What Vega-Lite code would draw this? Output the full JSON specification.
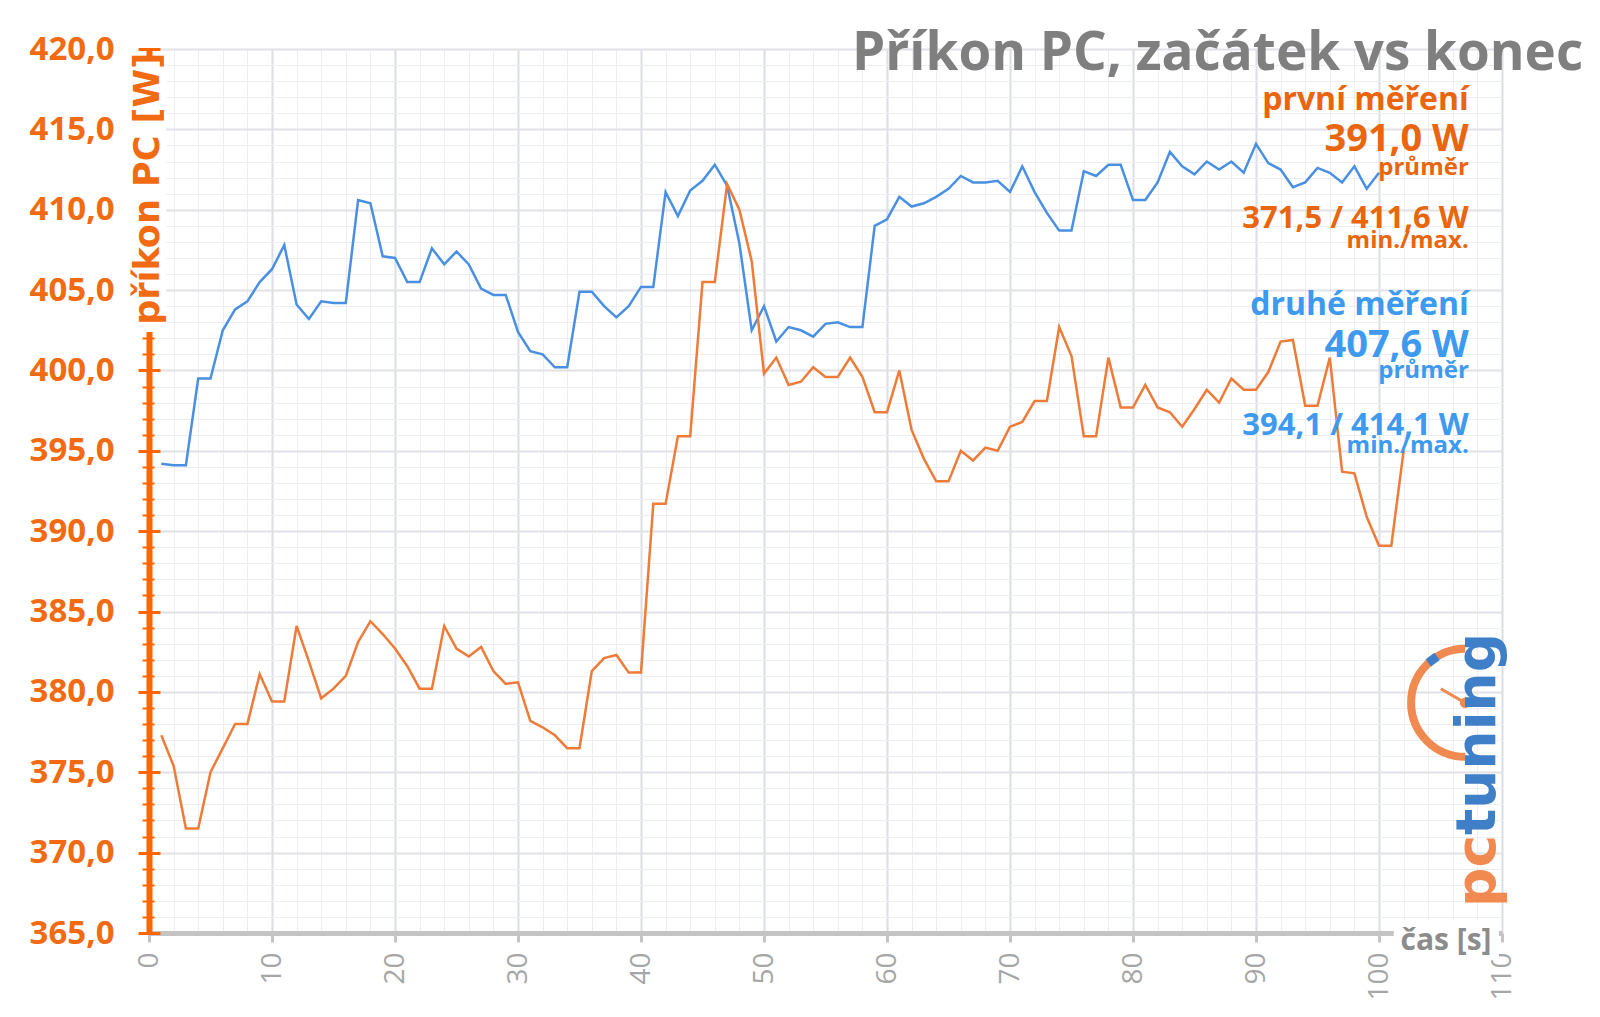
{
 "$schema": "https://vega.github.io/schema/vega-lite/v6.json",
 "width": 1353,
 "height": 884,
 "autosize": {"type": "none"},
 "padding": {"left": 149, "top": 49, "right": 98, "bottom": 84},
 "background": "white",
 "config": {"view": {"stroke": null}, "font": "Open Sans"},
 "datasets": {
  "power": [
   {"t":1,"v":394.2,"series":"druhé"},{"t":2,"v":394.1,"series":"druhé"},{"t":3,"v":394.1,"series":"druhé"},{"t":4,"v":399.5,"series":"druhé"},{"t":5,"v":399.5,"series":"druhé"},
   {"t":6,"v":402.5,"series":"druhé"},{"t":7,"v":403.8,"series":"druhé"},{"t":8,"v":404.3,"series":"druhé"},{"t":9,"v":405.5,"series":"druhé"},{"t":10,"v":406.3,"series":"druhé"},
   {"t":11,"v":407.8,"series":"druhé"},{"t":12,"v":404.1,"series":"druhé"},{"t":13,"v":403.2,"series":"druhé"},{"t":14,"v":404.3,"series":"druhé"},{"t":15,"v":404.2,"series":"druhé"},
   {"t":16,"v":404.2,"series":"druhé"},{"t":17,"v":410.6,"series":"druhé"},{"t":18,"v":410.4,"series":"druhé"},{"t":19,"v":407.1,"series":"druhé"},{"t":20,"v":407.0,"series":"druhé"},
   {"t":21,"v":405.5,"series":"druhé"},{"t":22,"v":405.5,"series":"druhé"},{"t":23,"v":407.6,"series":"druhé"},{"t":24,"v":406.6,"series":"druhé"},{"t":25,"v":407.4,"series":"druhé"},
   {"t":26,"v":406.6,"series":"druhé"},{"t":27,"v":405.1,"series":"druhé"},{"t":28,"v":404.7,"series":"druhé"},{"t":29,"v":404.7,"series":"druhé"},{"t":30,"v":402.4,"series":"druhé"},
   {"t":31,"v":401.2,"series":"druhé"},{"t":32,"v":401.0,"series":"druhé"},{"t":33,"v":400.2,"series":"druhé"},{"t":34,"v":400.2,"series":"druhé"},{"t":35,"v":404.9,"series":"druhé"},
   {"t":36,"v":404.9,"series":"druhé"},{"t":37,"v":404.0,"series":"druhé"},{"t":38,"v":403.3,"series":"druhé"},{"t":39,"v":404.0,"series":"druhé"},{"t":40,"v":405.2,"series":"druhé"},
   {"t":41,"v":405.2,"series":"druhé"},{"t":42,"v":411.1,"series":"druhé"},{"t":43,"v":409.6,"series":"druhé"},{"t":44,"v":411.2,"series":"druhé"},{"t":45,"v":411.8,"series":"druhé"},
   {"t":46,"v":412.8,"series":"druhé"},{"t":47,"v":411.5,"series":"druhé"},{"t":48,"v":407.9,"series":"druhé"},{"t":49,"v":402.5,"series":"druhé"},{"t":50,"v":404.0,"series":"druhé"},
   {"t":51,"v":401.8,"series":"druhé"},{"t":52,"v":402.7,"series":"druhé"},{"t":53,"v":402.5,"series":"druhé"},{"t":54,"v":402.1,"series":"druhé"},{"t":55,"v":402.9,"series":"druhé"},
   {"t":56,"v":403.0,"series":"druhé"},{"t":57,"v":402.7,"series":"druhé"},{"t":58,"v":402.7,"series":"druhé"},{"t":59,"v":409.0,"series":"druhé"},{"t":60,"v":409.4,"series":"druhé"},
   {"t":61,"v":410.8,"series":"druhé"},{"t":62,"v":410.2,"series":"druhé"},{"t":63,"v":410.4,"series":"druhé"},{"t":64,"v":410.8,"series":"druhé"},{"t":65,"v":411.3,"series":"druhé"},
   {"t":66,"v":412.1,"series":"druhé"},{"t":67,"v":411.7,"series":"druhé"},{"t":68,"v":411.7,"series":"druhé"},{"t":69,"v":411.8,"series":"druhé"},{"t":70,"v":411.1,"series":"druhé"},
   {"t":71,"v":412.7,"series":"druhé"},{"t":72,"v":411.1,"series":"druhé"},{"t":73,"v":409.8,"series":"druhé"},{"t":74,"v":408.7,"series":"druhé"},{"t":75,"v":408.7,"series":"druhé"},
   {"t":76,"v":412.4,"series":"druhé"},{"t":77,"v":412.1,"series":"druhé"},{"t":78,"v":412.8,"series":"druhé"},{"t":79,"v":412.8,"series":"druhé"},{"t":80,"v":410.6,"series":"druhé"},
   {"t":81,"v":410.6,"series":"druhé"},{"t":82,"v":411.7,"series":"druhé"},{"t":83,"v":413.6,"series":"druhé"},{"t":84,"v":412.7,"series":"druhé"},{"t":85,"v":412.2,"series":"druhé"},
   {"t":86,"v":413.0,"series":"druhé"},{"t":87,"v":412.5,"series":"druhé"},{"t":88,"v":413.0,"series":"druhé"},{"t":89,"v":412.3,"series":"druhé"},{"t":90,"v":414.1,"series":"druhé"},
   {"t":91,"v":412.9,"series":"druhé"},{"t":92,"v":412.5,"series":"druhé"},{"t":93,"v":411.4,"series":"druhé"},{"t":94,"v":411.7,"series":"druhé"},{"t":95,"v":412.6,"series":"druhé"},
   {"t":96,"v":412.3,"series":"druhé"},{"t":97,"v":411.7,"series":"druhé"},{"t":98,"v":412.7,"series":"druhé"},{"t":99,"v":411.3,"series":"druhé"},{"t":100,"v":412.3,"series":"druhé"},
   {"t":1,"v":377.3,"series":"první"},{"t":2,"v":375.4,"series":"první"},{"t":3,"v":371.5,"series":"první"},{"t":4,"v":371.5,"series":"první"},{"t":5,"v":375.0,"series":"první"},
   {"t":6,"v":376.5,"series":"první"},{"t":7,"v":378.0,"series":"první"},{"t":8,"v":378.0,"series":"první"},{"t":9,"v":381.1,"series":"první"},{"t":10,"v":379.4,"series":"první"},
   {"t":11,"v":379.4,"series":"první"},{"t":12,"v":384.1,"series":"první"},{"t":13,"v":381.9,"series":"první"},{"t":14,"v":379.6,"series":"první"},{"t":15,"v":380.2,"series":"první"},
   {"t":16,"v":381.0,"series":"první"},{"t":17,"v":383.1,"series":"první"},{"t":18,"v":384.4,"series":"první"},{"t":19,"v":383.6,"series":"první"},{"t":20,"v":382.7,"series":"první"},
   {"t":21,"v":381.6,"series":"první"},{"t":22,"v":380.2,"series":"první"},{"t":23,"v":380.2,"series":"první"},{"t":24,"v":384.1,"series":"první"},{"t":25,"v":382.7,"series":"první"},
   {"t":26,"v":382.2,"series":"první"},{"t":27,"v":382.8,"series":"první"},{"t":28,"v":381.3,"series":"první"},{"t":29,"v":380.5,"series":"první"},{"t":30,"v":380.6,"series":"první"},
   {"t":31,"v":378.2,"series":"první"},{"t":32,"v":377.8,"series":"první"},{"t":33,"v":377.3,"series":"první"},{"t":34,"v":376.5,"series":"první"},{"t":35,"v":376.5,"series":"první"},
   {"t":36,"v":381.3,"series":"první"},{"t":37,"v":382.1,"series":"první"},{"t":38,"v":382.3,"series":"první"},{"t":39,"v":381.2,"series":"první"},{"t":40,"v":381.2,"series":"první"},
   {"t":41,"v":391.7,"series":"první"},{"t":42,"v":391.7,"series":"první"},{"t":43,"v":395.9,"series":"první"},{"t":44,"v":395.9,"series":"první"},{"t":45,"v":405.5,"series":"první"},
   {"t":46,"v":405.5,"series":"první"},{"t":47,"v":411.6,"series":"první"},{"t":48,"v":410.0,"series":"první"},{"t":49,"v":406.8,"series":"první"},{"t":50,"v":399.8,"series":"první"},
   {"t":51,"v":400.8,"series":"první"},{"t":52,"v":399.1,"series":"první"},{"t":53,"v":399.3,"series":"první"},{"t":54,"v":400.2,"series":"první"},{"t":55,"v":399.6,"series":"první"},
   {"t":56,"v":399.6,"series":"první"},{"t":57,"v":400.8,"series":"první"},{"t":58,"v":399.6,"series":"první"},{"t":59,"v":397.4,"series":"první"},{"t":60,"v":397.4,"series":"první"},
   {"t":61,"v":400.0,"series":"první"},{"t":62,"v":396.3,"series":"první"},{"t":63,"v":394.5,"series":"první"},{"t":64,"v":393.1,"series":"první"},{"t":65,"v":393.1,"series":"první"},
   {"t":66,"v":395.0,"series":"první"},{"t":67,"v":394.4,"series":"první"},{"t":68,"v":395.2,"series":"první"},{"t":69,"v":395.0,"series":"první"},{"t":70,"v":396.5,"series":"první"},
   {"t":71,"v":396.8,"series":"první"},{"t":72,"v":398.1,"series":"první"},{"t":73,"v":398.1,"series":"první"},{"t":74,"v":402.7,"series":"první"},{"t":75,"v":400.9,"series":"první"},
   {"t":76,"v":395.9,"series":"první"},{"t":77,"v":395.9,"series":"první"},{"t":78,"v":400.8,"series":"první"},{"t":79,"v":397.7,"series":"první"},{"t":80,"v":397.7,"series":"první"},
   {"t":81,"v":399.1,"series":"první"},{"t":82,"v":397.7,"series":"první"},{"t":83,"v":397.4,"series":"první"},{"t":84,"v":396.5,"series":"první"},{"t":85,"v":397.6,"series":"první"},
   {"t":86,"v":398.8,"series":"první"},{"t":87,"v":398.0,"series":"první"},{"t":88,"v":399.5,"series":"první"},{"t":89,"v":398.8,"series":"první"},{"t":90,"v":398.8,"series":"první"},
   {"t":91,"v":399.9,"series":"první"},{"t":92,"v":401.8,"series":"první"},{"t":93,"v":401.9,"series":"první"},{"t":94,"v":397.8,"series":"první"},{"t":95,"v":397.8,"series":"první"},
   {"t":96,"v":400.8,"series":"první"},{"t":97,"v":393.7,"series":"první"},{"t":98,"v":393.6,"series":"první"},{"t":99,"v":390.9,"series":"první"},{"t":100,"v":389.1,"series":"první"},
   {"t":101,"v":389.1,"series":"první"},{"t":102,"v":395.0,"series":"první"}
  ],
  "notes": [
   {"label":"první měření","series":"první","kind":"heading","v":416.2},
   {"label":"391,0 W","series":"první","kind":"value","v":413.63},
   {"label":"průměr","series":"první","kind":"caption","v":412.18},
   {"label":"371,5 / 411,6 W","series":"první","kind":"range","v":408.86},
   {"label":"min./max.","series":"první","kind":"caption","v":407.62},
   {"label":"druhé měření","series":"druhé","kind":"heading","v":403.47},
   {"label":"407,6 W","series":"druhé","kind":"value","v":400.83},
   {"label":"průměr","series":"druhé","kind":"caption","v":399.53},
   {"label":"394,1 / 414,1 W","series":"druhé","kind":"range","v":396.0},
   {"label":"min./max.","series":"druhé","kind":"caption","v":394.86}
  ]
 },
 "resolve": {"axis": {"x": "independent", "y": "independent"}},
 "layer": [
  {
   "data": {"name": "power"},
   "transform": [{"filter": {"field": "series", "equal": "druhé"}}],
   "mark": {"type": "line", "color": "#4A90E2", "strokeWidth": 2.5},
   "encoding": {
    "x": {"field": "t", "type": "quantitative", "scale": {"domain": [0, 110], "nice": false, "zero": false},
     "axis": {"orient": "top", "values": [2,4,6,8,12,14,16,18,22,24,26,28,32,34,36,38,42,44,46,48,52,54,56,58,62,64,66,68,72,74,76,78,82,84,86,88,92,94,96,98,102,104,106,108],
      "grid": true, "gridColor": "#eceef3", "gridWidth": 1, "labels": false, "ticks": false, "domain": false, "title": null}},
    "y": {"field": "v", "type": "quantitative", "scale": {"domain": [365, 420], "nice": false, "zero": false},
     "axis": {"orient": "right", "values": [366,367,368,369,371,372,373,374,376,377,378,379,381,382,383,384,386,387,388,389,391,392,393,394,396,397,398,399,401,402,403,404,406,407,408,409,411,412,413,414,416,417,418,419],
      "grid": true, "gridColor": "#eceef3", "gridWidth": 1, "labels": false, "ticks": false, "domain": false, "title": null}}
   }
  },
  {
   "data": {"name": "power"},
   "transform": [{"filter": {"field": "series", "equal": "první"}}],
   "mark": {"type": "line", "color": "#EE7B38", "strokeWidth": 2.5},
   "encoding": {
    "x": {"field": "t", "type": "quantitative", "scale": {"domain": [0, 110], "nice": false, "zero": false},
     "axis": {"orient": "bottom", "values": [0,10,20,30,40,50,60,70,80,90,100,110], "labelAngle": 270, "labelFont": "Open Sans", "labelFontSize": 28, "labelColor": "#a6a6a6", "labelPadding": 10,
      "ticks": true, "tickSize": 9, "tickWidth": 3, "tickColor": "#c4c4c4", "domain": true, "domainColor": "#c4c4c4", "domainWidth": 5,
      "grid": true, "gridColor": "#dcdee6", "gridWidth": 2, "title": null, "labelFlush": false, "labelOverlap": false}},
    "y": {"field": "v", "type": "quantitative", "scale": {"domain": [365, 420], "nice": false, "zero": false},
     "axis": {"orient": "left", "values": [365,370,375,380,385,390,395,400,405,410,415,420], "labelExpr": "replace(format(datum.value, '.1f'), '.', ',')",
      "labelFont": "Open Sans", "labelFontWeight": "bold", "labelFontSize": 33, "labelColor": "#F26A12", "labelPadding": 35,
      "ticks": false, "tickSize": 0, "domain": true, "domainColor": "#FF6600", "domainWidth": 6,
      "grid": true, "gridColor": "#e1e2e8", "gridWidth": 2, "title": null, "labelFlush": false, "labelOverlap": false}}
   }
  },
  {
   "data": {"values": [{}]},
   "mark": {"type": "rect", "color": "white"},
   "encoding": {
    "x": {"datum": -1.7, "type": "quantitative", "scale": {"domain": [0, 110], "nice": false, "zero": false}, "axis": null},
    "x2": {"datum": 1.4},
    "y": {"datum": 402.4, "type": "quantitative", "scale": {"domain": [365, 420], "nice": false, "zero": false}, "axis": null},
    "y2": {"datum": 419.3}
   }
  },
  {
   "data": {"values": [{}]},
   "mark": {"type": "rect", "color": "white"},
   "encoding": {
    "x": {"datum": 101.2, "type": "quantitative", "scale": {"domain": [0, 110], "nice": false, "zero": false}, "axis": null},
    "x2": {"datum": 109.75},
    "y": {"datum": 363.3, "type": "quantitative", "scale": {"domain": [365, 420], "nice": false, "zero": false}, "axis": null},
    "y2": {"datum": 365.8}
   }
  },
  {
   "data": {"values": [{"label": "příkon PC [W]"}]},
   "mark": {"type": "text", "angle": 270, "align": "center", "baseline": "middle", "font": "DejaVu Sans", "fontWeight": "bold", "fontSize": 35, "color": "#F26A12"},
   "encoding": {
    "x": {"datum": -0.12, "type": "quantitative", "scale": {"domain": [0, 110], "nice": false, "zero": false}, "axis": null},
    "y": {"datum": 411.3, "type": "quantitative", "scale": {"domain": [365, 420], "nice": false, "zero": false}, "axis": null},
    "text": {"field": "label"}
   }
  },
  {
   "data": {"values": [{"label": "čas [s]"}]},
   "mark": {"type": "text", "align": "center", "baseline": "alphabetic", "font": "Open Sans", "fontWeight": "bold", "fontSize": 30, "color": "#8c8c8c"},
   "encoding": {
    "x": {"datum": 105.45, "type": "quantitative", "scale": {"domain": [0, 110], "nice": false, "zero": false}, "axis": null},
    "y": {"datum": 363.95, "type": "quantitative", "scale": {"domain": [365, 420], "nice": false, "zero": false}, "axis": null},
    "text": {"field": "label"}
   }
  },
  {
   "data": {"values": [{"label": "Příkon PC, začátek vs konec"}]},
   "mark": {"type": "text", "align": "right", "baseline": "alphabetic", "font": "Open Sans", "fontWeight": "bold", "fontSize": 53, "color": "#7f7f7f"},
   "encoding": {
    "x": {"datum": 116.6, "type": "quantitative", "scale": {"domain": [0, 110], "nice": false, "zero": false}, "axis": null},
    "y": {"datum": 418.7, "type": "quantitative", "scale": {"domain": [365, 420], "nice": false, "zero": false}, "axis": null},
    "text": {"field": "label"}
   }
  },
  {
   "data": {"name": "notes"},
   "transform": [{"filter": {"field": "kind", "equal": "heading"}}],
   "mark": {"type": "text", "align": "right", "baseline": "alphabetic", "font": "Open Sans", "fontWeight": "bold", "fontSize": 32},
   "encoding": {
    "x": {"datum": 107.3, "type": "quantitative", "scale": {"domain": [0, 110], "nice": false, "zero": false}, "axis": null},
    "y": {"field": "v", "type": "quantitative", "scale": {"domain": [365, 420], "nice": false, "zero": false},
     "axis": {"orient": "left", "offset": -11, "values": [365,370,375,380,385,390,395,400,405,410,415,420], "grid": false, "domain": false, "labels": false, "ticks": true, "tickSize": 22, "tickWidth": 3, "tickColor": "#FF6600", "title": null}},
    "text": {"field": "label"},
    "color": {"field": "series", "type": "nominal", "scale": {"domain": ["první", "druhé"], "range": ["#E9650E", "#3D9AEF"]}, "legend": null}
   }
  },
  {
   "data": {"name": "notes"},
   "transform": [{"filter": {"field": "kind", "equal": "value"}}],
   "mark": {"type": "text", "align": "right", "baseline": "alphabetic", "font": "Open Sans", "fontWeight": "bold", "fontSize": 38},
   "encoding": {
    "x": {"datum": 107.3, "type": "quantitative", "scale": {"domain": [0, 110], "nice": false, "zero": false}, "axis": null},
    "y": {"field": "v", "type": "quantitative", "scale": {"domain": [365, 420], "nice": false, "zero": false},
     "axis": {"orient": "left", "offset": -5, "values": [366,367,368,369,371,372,373,374,376,377,378,379,381,382,383,384,386,387,388,389,391,392,393,394,396,397,398,399,401,402,403,404,406,407,408,409,411,412,413,414,416,417,418,419], "grid": false, "domain": false, "labels": false, "ticks": true, "tickSize": 12, "tickWidth": 2, "tickColor": "#FF6600", "title": null}},
    "text": {"field": "label"},
    "color": {"field": "series", "type": "nominal", "scale": {"domain": ["první", "druhé"], "range": ["#E9650E", "#3D9AEF"]}, "legend": null}
   }
  },
  {
   "data": {"name": "notes"},
   "transform": [{"filter": {"field": "kind", "equal": "caption"}}],
   "mark": {"type": "text", "align": "right", "baseline": "alphabetic", "font": "Open Sans", "fontWeight": "bold", "fontSize": 24},
   "encoding": {
    "x": {"datum": 107.3, "type": "quantitative", "scale": {"domain": [0, 110], "nice": false, "zero": false}, "axis": null},
    "y": {"field": "v", "type": "quantitative", "scale": {"domain": [365, 420], "nice": false, "zero": false}, "axis": null},
    "text": {"field": "label"},
    "color": {"field": "series", "type": "nominal", "scale": {"domain": ["první", "druhé"], "range": ["#E9650E", "#3D9AEF"]}, "legend": null}
   }
  },
  {
   "data": {"name": "notes"},
   "transform": [{"filter": {"field": "kind", "equal": "range"}}],
   "mark": {"type": "text", "align": "right", "baseline": "alphabetic", "font": "Open Sans", "fontWeight": "bold", "fontSize": 31},
   "encoding": {
    "x": {"datum": 107.3, "type": "quantitative", "scale": {"domain": [0, 110], "nice": false, "zero": false}, "axis": null},
    "y": {"field": "v", "type": "quantitative", "scale": {"domain": [365, 420], "nice": false, "zero": false}, "axis": null},
    "text": {"field": "label"},
    "color": {"field": "series", "type": "nominal", "scale": {"domain": ["první", "druhé"], "range": ["#E9650E", "#3D9AEF"]}, "legend": null}
   }
  },
  {
   "data": {"values": [{}]},
   "mark": {"type": "point", "shape": "M 0 -1 A 1 1 0 0 0 0 1", "filled": false, "color": "#F08A50", "strokeWidth": 8, "size": 11664, "opacity": 1},
   "encoding": {
    "x": {"datum": 107.0, "type": "quantitative", "scale": {"domain": [0, 110], "nice": false, "zero": false}, "axis": null},
    "y": {"datum": 379.32, "type": "quantitative", "scale": {"domain": [365, 420], "nice": false, "zero": false}, "axis": null}
   }
  },
  {
   "data": {"values": [{}]},
   "mark": {"type": "point", "shape": "M -0.68 -0.74 L -0.52 -0.86", "filled": false, "color": "#3F7FC8", "strokeWidth": 9, "size": 11664, "opacity": 1},
   "encoding": {
    "x": {"datum": 107.0, "type": "quantitative", "scale": {"domain": [0, 110], "nice": false, "zero": false}, "axis": null},
    "y": {"datum": 379.32, "type": "quantitative", "scale": {"domain": [365, 420], "nice": false, "zero": false}, "axis": null}
   }
  },
  {
   "data": {"values": [{}]},
   "mark": {"type": "point", "shape": "M -0.45 -0.26 L 0 0", "filled": false, "color": "#F08A50", "strokeWidth": 3, "size": 11664, "opacity": 1},
   "encoding": {
    "x": {"datum": 107.0, "type": "quantitative", "scale": {"domain": [0, 110], "nice": false, "zero": false}, "axis": null},
    "y": {"datum": 379.32, "type": "quantitative", "scale": {"domain": [365, 420], "nice": false, "zero": false}, "axis": null}
   }
  },
  {
   "data": {"values": [{}]},
   "mark": {"type": "point", "shape": "circle", "filled": true, "color": "#F08A50", "size": 110, "opacity": 1},
   "encoding": {
    "x": {"datum": 107.0, "type": "quantitative", "scale": {"domain": [0, 110], "nice": false, "zero": false}, "axis": null},
    "y": {"datum": 379.32, "type": "quantitative", "scale": {"domain": [365, 420], "nice": false, "zero": false}, "axis": null}
   }
  },
  {
   "data": {"values": [{"label": "pc"}]},
   "mark": {"type": "text", "angle": 270, "align": "right", "baseline": "alphabetic", "font": "DejaVu Sans", "fontWeight": "bold", "fontSize": 55, "color": "#F08A50"},
   "encoding": {
    "x": {"datum": 109.43, "type": "quantitative", "scale": {"domain": [0, 110], "nice": false, "zero": false}, "axis": null},
    "y": {"datum": 371.1, "type": "quantitative", "scale": {"domain": [365, 420], "nice": false, "zero": false}, "axis": null},
    "text": {"field": "label"}
   }
  },
  {
   "data": {"values": [{"label": "tuning"}]},
   "mark": {"type": "text", "angle": 270, "align": "left", "baseline": "alphabetic", "font": "DejaVu Sans", "fontWeight": "bold", "fontSize": 55, "color": "#3F7FC8"},
   "encoding": {
    "x": {"datum": 109.43, "type": "quantitative", "scale": {"domain": [0, 110], "nice": false, "zero": false}, "axis": null},
    "y": {"datum": 371.1, "type": "quantitative", "scale": {"domain": [365, 420], "nice": false, "zero": false}, "axis": null},
    "text": {"field": "label"}
   }
  }
 ]
}
